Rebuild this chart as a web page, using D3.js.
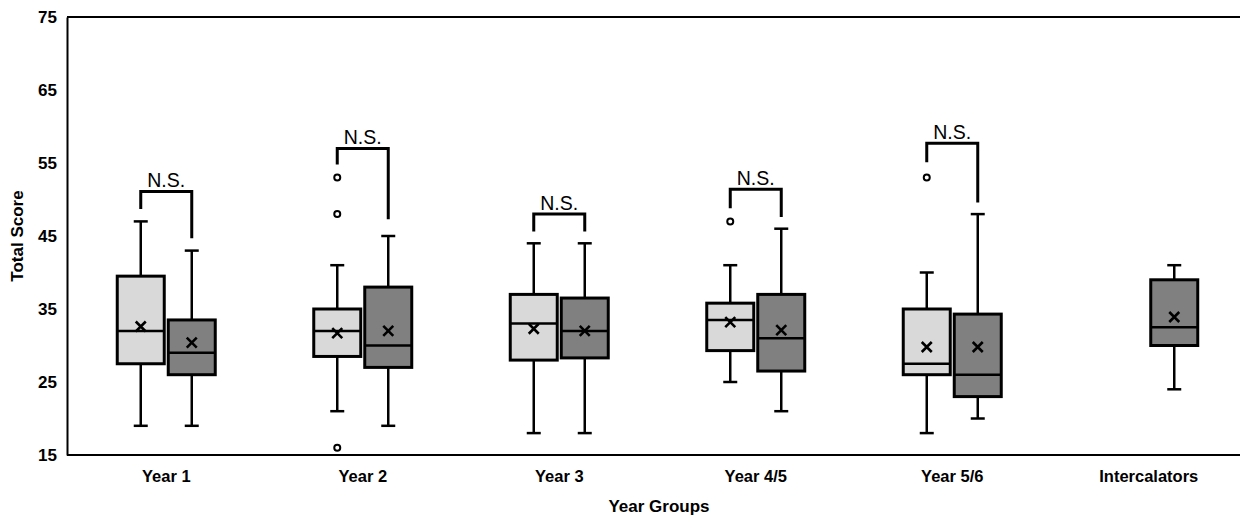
<html>
<head>
<script src="https://d3js.org/d3.v7.min.js"></script>
<style>
body { margin:0; background:#ffffff; font-family:"Liberation Sans", Arial, sans-serif; }
svg text { fill:#000000; }
</style>
</head>
<body>
<svg width="1240" height="515" id="viz"></svg>
<script>
// year groups on the x axis
var groups = ["Year 1","Year 2","Year 3","Year 4/5","Year 5/6","Intercalators"];
var yTicks = [15,25,35,45,55,65,75];

// light boxes (first series): [whiskerLow, q1, median, q3, whiskerHigh, mean]
var lightGroups = ["Year 1","Year 2","Year 3","Year 4/5","Year 5/6"];
var lightStats = [
	[19, 27.5, 32, 39.5, 47, 32.6],
	[21, 28.5, 32, 35, 41, 31.7],
	[18, 28, 33, 37, 44, 32.3],
	[25, 29.3, 33.5, 35.8, 41, 33.2],
	[18, 26, 27.5, 35, 40, 29.8]
];
var lightOutliers = [[], [53,48,16], [], [47], [53]];

// dark boxes (second series)
var darkGroups = ["Year 1","Year 2","Year 3","Year 4/5","Year 5/6","Intercalators"];
var darkStats = [
	[19, 26, 29, 33.5, 43, 30.4],
	[19, 27, 30, 38, 45, 32],
	[18, 28.3, 32, 36.5, 44, 32],
	[21, 26.5, 31, 37, 46, 32.1],
	[20, 23, 26, 34.3, 48, 29.8],
	[24, 30, 32.5, 39, 41, 33.9]
];
var darkOutliers = [[], [], [], [], [], []];

// significance brackets: [top, left leg end, right leg end]
var bracketGroups = ["Year 1","Year 2","Year 3","Year 4/5","Year 5/6"];
var bracketLevels = [
	[51.1, 48.7, 44.7],
	[57, 54.8, 47.3],
	[48, 45.6, 45.6],
	[51.4, 48.8, 47.6],
	[57.7, 55.1, 49.6]
];
var bracketLabel = "N.S.";

var svg = d3.select("#viz");
var xScale = d3.scaleBand().domain(groups).range([68,1247]).padding(0);
var yScale = d3.scaleLinear().domain([15,75]).range([455,17]);
var boxW = 47, offset = 25.5, capW = 14;

function center(g) { return xScale(g) + xScale.bandwidth()/2; }

function drawBoxes(gs, stats, outliers, side, fill) {
	for (var i = 0; i < gs.length; i++) {
		var s = stats[i];
		var cx = center(gs[i]) + side*offset;
		var g = svg.append("g");
		// whiskers
		g.append("line").attr("x1",cx).attr("x2",cx).attr("y1",yScale(s[0])).attr("y2",yScale(s[1]))
			.attr("stroke","#000").attr("stroke-width",2.5);
		g.append("line").attr("x1",cx).attr("x2",cx).attr("y1",yScale(s[3])).attr("y2",yScale(s[4]))
			.attr("stroke","#000").attr("stroke-width",2.5);
		[s[0], s[4]].forEach(function (v) {
			g.append("line").attr("x1",cx-capW/2).attr("x2",cx+capW/2).attr("y1",yScale(v)).attr("y2",yScale(v))
				.attr("stroke","#000").attr("stroke-width",2.5);
		});
		// box
		g.append("rect").attr("x",cx-boxW/2).attr("width",boxW)
			.attr("y",yScale(s[3])).attr("height",yScale(s[1])-yScale(s[3]))
			.attr("fill",fill).attr("stroke","#000").attr("stroke-width",3);
		// median
		g.append("line").attr("x1",cx-boxW/2).attr("x2",cx+boxW/2).attr("y1",yScale(s[2])).attr("y2",yScale(s[2]))
			.attr("stroke","#000").attr("stroke-width",2.5);
		// mean marker
		var m = yScale(s[5]), r = 5;
		g.append("path").attr("d","M"+(cx-r)+","+(m-r)+"L"+(cx+r)+","+(m+r)+"M"+(cx-r)+","+(m+r)+"L"+(cx+r)+","+(m-r))
			.attr("stroke","#000").attr("stroke-width",2.6).attr("fill","none");
		// outliers
		outliers[i].forEach(function (v) {
			g.append("circle").attr("cx",cx).attr("cy",yScale(v)).attr("r",3)
				.attr("fill","#fff").attr("stroke","#000").attr("stroke-width",2);
		});
	}
}

// axes frame
svg.append("line").attr("x1",67).attr("x2",1240).attr("y1",yScale(75)).attr("y2",yScale(75)).attr("stroke","#000").attr("stroke-width",2);
var yAxis = d3.axisLeft(yScale).tickValues(yTicks).tickSize(0).tickPadding(10);
var yg = svg.append("g").attr("transform","translate(67,0)").call(yAxis);
yg.select(".domain").attr("stroke","#000").attr("stroke-width",2);
yg.selectAll("text").style("font-family","'Liberation Sans', Arial, sans-serif").style("font-size","17px").style("font-weight","bold").attr("fill","#000");
var xAxis = d3.axisBottom(xScale).tickSize(0).tickPadding(15);
var xg = svg.append("g").attr("transform","translate(0,455)").call(xAxis);
xg.select(".domain").attr("stroke","#000").attr("stroke-width",2).attr("d","M67,0H1240");
xg.selectAll("text").style("font-family","'Liberation Sans', Arial, sans-serif").style("font-size","16.5px").style("font-weight","bold").attr("fill","#000");

drawBoxes(lightGroups, lightStats, lightOutliers, -1, "#d9d9d9");
drawBoxes(darkGroups, darkStats, darkOutliers, 1, "#808080");

// brackets
for (var i = 0; i < bracketGroups.length; i++) {
	var b = bracketLevels[i];
	var xl = center(bracketGroups[i]) - offset, xr = center(bracketGroups[i]) + offset;
	svg.append("path").attr("d","M"+xl+","+yScale(b[1])+"V"+yScale(b[0])+"H"+xr+"V"+yScale(b[2]))
		.attr("fill","none").attr("stroke","#000").attr("stroke-width",3);
	svg.append("text").attr("x",center(bracketGroups[i])).attr("y",yScale(b[0])-4)
		.attr("text-anchor","middle").style("font-size","19.5px").text(bracketLabel);
}

// axis titles
svg.append("text").text("Total Score").attr("text-anchor","middle")
	.attr("transform","translate(23,236)rotate(-90)").style("font-size","17px").style("font-weight","bold");
svg.append("text").text("Year Groups").attr("text-anchor","middle")
	.attr("x",659).attr("y",512).style("font-size","17px").style("font-weight","bold");
</script>
</body>
</html>
